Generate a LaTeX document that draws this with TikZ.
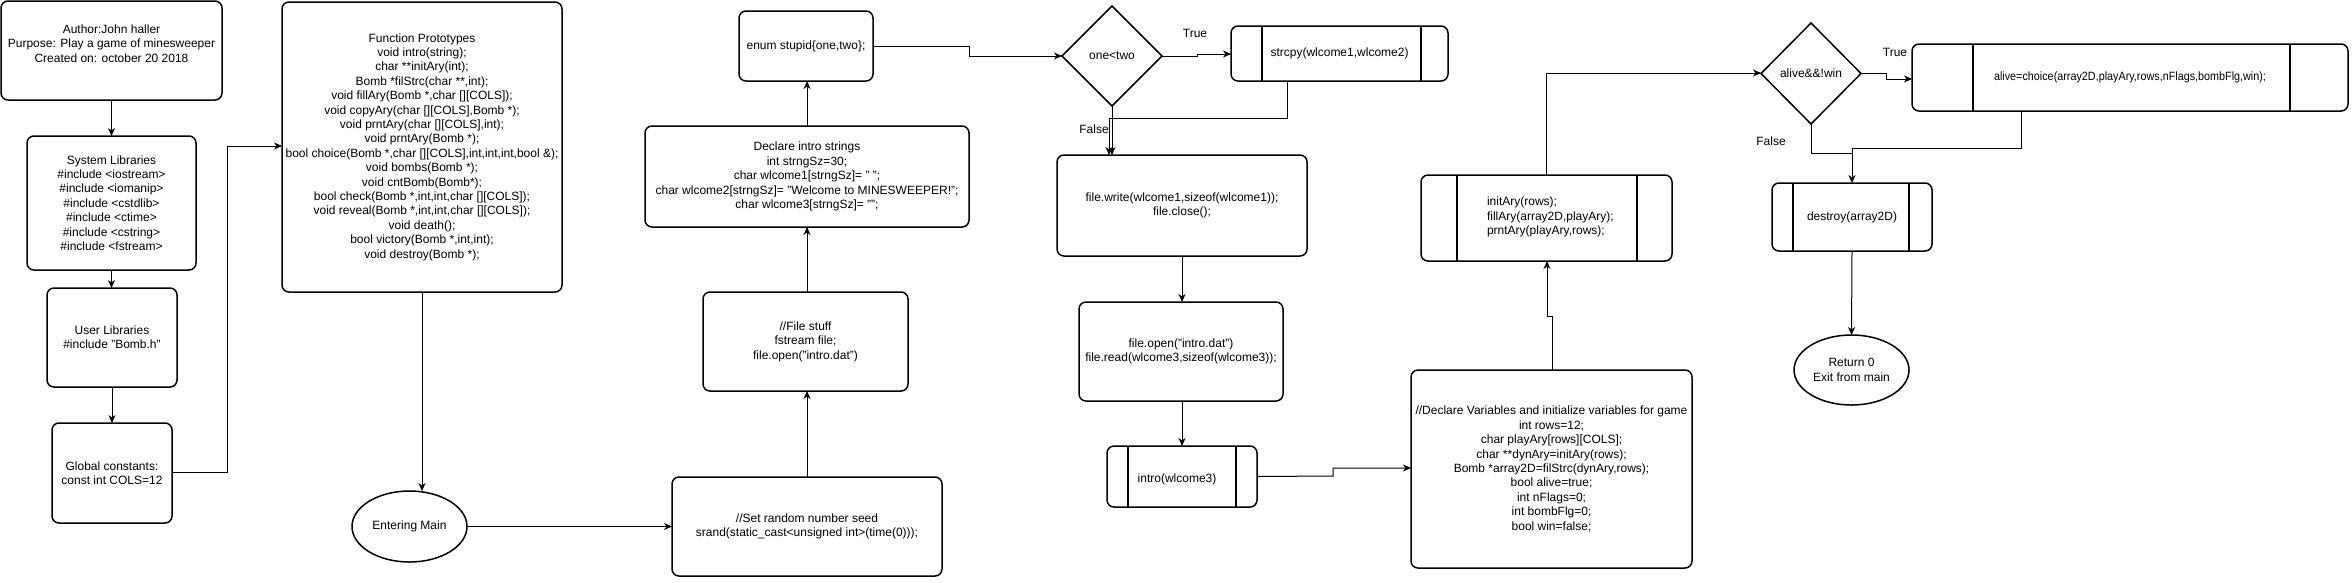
\documentclass[tikz,border=0pt]{standalone}
\usepackage{fontspec}
\usepackage{graphicx}
\setmainfont{Liberation Sans}
\usetikzlibrary{arrows.meta,shapes.geometric}
\begin{document}
\begin{tikzpicture}[x=1pt,y=-1pt,
  base/.style={font=\fontsize{12pt}{14.4pt}\selectfont, align=center, inner sep=0pt, outer sep=0pt},
  box/.style={base, draw, line width=1.5pt, rounded corners=7pt},
  dia/.style={base, draw, line width=1.5pt, diamond, aspect=1},
  ell/.style={base, draw, line width=1.5pt, ellipse},
  inner/.style={line width=1.5pt},
  conn/.style={line width=1pt, -{Stealth[length=8pt,width=7pt,inset=2.5pt]}},
  plain/.style={line width=1pt},
  lbl/.style={base}
]
\useasboundingbox (0,0) rectangle (2352,582);
\fill[white] (0,0) rectangle (2352,582);

% left column
\node[box, minimum width=221pt, minimum height=99pt] (author) at (111.5,50.5)
  {Author:John haller\\Purpose: Play a game of minesweeper\\Created on: october 20 2018\\~};
\node[box, minimum width=169pt, minimum height=134pt] (syslib) at (111.5,203)
  {System Libraries\\\#include <iostream>\\\#include <iomanip>\\\#include <cstdlib>\\\#include <ctime>\\\#include <cstring>\\\#include <fstream>};
\node[box, minimum width=130pt, minimum height=99pt] (userlib) at (112,337.5)
  {User Libraries\\\#include "Bomb.h"};
\node[box, minimum width=120pt, minimum height=100pt] (global) at (112,473)
  {Global constants:\\const int COLS=12};

% prototypes
\node[box, minimum width=280pt, minimum height=290pt] (proto) at (422,147)
  {Function Prototypes\\
   void intro(string);\\
   char **initAry(int);\\
   Bomb *filStrc(char **,int);\\
   void fillAry(Bomb *,char [][COLS]);\\
   void copyAry(char [][COLS],Bomb *);\\
   void prntAry(char [][COLS],int);\\
   void prntAry(Bomb *);\\
   bool choice(Bomb *,char [][COLS],int,int,int,bool \&);\\
   void bombs(Bomb *);\\
   void cntBomb(Bomb*);\\
   bool check(Bomb *,int,int,char [][COLS]);\\
   void reveal(Bomb *,int,int,char [][COLS]);\\
   void death();\\
   bool victory(Bomb *,int,int);\\
   void destroy(Bomb *);};

\node[ell, minimum width=115pt, minimum height=71pt] (entering) at (409.5,526.5) {};
\node[base] (enteringT) at (entering.center) {Entering Main};

% column 3
\node[box, minimum width=270pt, minimum height=99pt] (srand) at (807,526.5)
  {//Set random number seed\\srand(static\_cast<unsigned int>(time(0)));};
\node[box, minimum width=205pt, minimum height=99pt] (file) at (805.5,341.5)
  {//File stuff\\fstream file;\\file.open("intro.dat")};
\node[box, minimum width=324pt, minimum height=101pt] (decl) at (807,176.5)
  {Declare intro strings\\int strngSz=30;\\char wlcome1[strngSz]= " ";\\char wlcome2[strngSz]= "Welcome to MINESWEEPER!";\\char wlcome3[strngSz]= "";};
\node[box, minimum width=134pt, minimum height=70pt] (enum) at (806,46)
  {enum stupid\{one,two\};};

% column 4
\node[dia, minimum width=100pt, minimum height=100pt] (d1) at (1112,56) {one<two};
\node[box, minimum width=217pt, minimum height=55pt] (strcpy) at (1339.5,53.5)
  {strcpy(wlcome1,wlcome2)};
\draw[inner] ([xshift=31pt]strcpy.north west) -- ([xshift=31pt]strcpy.south west);
\draw[inner] ([xshift=-27pt]strcpy.north east) -- ([xshift=-27pt]strcpy.south east);
\node[box, minimum width=250pt, minimum height=101pt] (write) at (1182,205.5)
  {file.write(wlcome1,sizeof(wlcome1));\\file.close();};
\node[box, minimum width=204pt, minimum height=99pt] (open) at (1181,351.5)
  {file.open("intro.dat")\\file.read(wlcome3,sizeof(wlcome3));};
\node[box, minimum width=150pt, minimum height=61pt] (intro) at (1182,476.5) {};
\node[base] (introT) at (1177,479) {intro(wlcome3)};
\draw[inner] ([xshift=21pt]intro.north west) -- ([xshift=21pt]intro.south west);
\draw[inner] ([xshift=-21pt]intro.north east) -- ([xshift=-21pt]intro.south east);

% column 5
\node[box, minimum width=281pt, minimum height=198pt] (vars) at (1551.5,469)
  {//Declare Variables and initialize variables for game\\int rows=12;\\char playAry[rows][COLS];\\char **dynAry=initAry(rows);\\Bomb *array2D=filStrc(dynAry,rows);\\bool alive=true;\\int nFlags=0;\\int bombFlg=0;\\bool win=false;};
\node[box, minimum width=251pt, minimum height=86pt] (init) at (1546.5,218) {};
\draw[inner] ([xshift=36pt]init.north west) -- ([xshift=36pt]init.south west);
\draw[inner] ([xshift=-35pt]init.north east) -- ([xshift=-35pt]init.south east);
\node[base, align=left, anchor=west] (initT) at (1487,217)
  {initAry(rows);\\fillAry(array2D,playAry);\\prntAry(playAry,rows);};

% column 6
\node[dia, minimum width=100pt, minimum height=101pt] (d2) at (1811,73.5) {alive\&\&!win};
\node[box, minimum width=436pt, minimum height=67pt] (choice) at (2130,77.5)
  {\scalebox{0.9}[1]{alive=choice(array2D,playAry,rows,nFlags,bombFlg,win);}};
\draw[inner] ([xshift=61pt]choice.north west) -- ([xshift=61pt]choice.south west);
\draw[inner] ([xshift=-58pt]choice.north east) -- ([xshift=-58pt]choice.south east);
\node[box, minimum width=160pt, minimum height=68pt] (destroy) at (1852,217)
  {destroy(array2D)};
\draw[inner] ([xshift=21pt]destroy.north west) -- ([xshift=21pt]destroy.south west);
\draw[inner] ([xshift=-23pt]destroy.north east) -- ([xshift=-23pt]destroy.south east);
\node[ell, minimum width=115pt, minimum height=70pt] (ret) at (1851.5,370) {};
\node[base] (retT) at (ret.center) {Return 0\\Exit from main};

% labels
\node[lbl] (t1) at (1195,33) {True};
\node[lbl] (f1) at (1094,129) {False};
\node[lbl] (t2) at (1895,52) {True};
\node[lbl] (f2) at (1771,141) {False};

% connectors
\draw[conn] (author.south) -- (syslib.north);
\draw[conn] (syslib.south) -- (userlib.north -| syslib.south);
\draw[conn] (userlib.south) -- (global.north -| userlib.south);
\coordinate (g1) at (227,472);
\coordinate (g2) at (227,146);
\draw[conn] (global.east |- g1) -- (g1) -- (g2) -- (proto.west |- g2);
\draw[conn] (422,292) -- (422,491);
\draw[conn] (entering.east) -- (srand.west);
\draw[conn] (srand.north) -- (file.south -| srand.north);
\draw[conn] (file.south -| srand.north) ++(0,-99) -- (decl.south);
\draw[conn] (decl.north) -- (enum.south -| decl.north);
\coordinate (e1) at (969,46);
\coordinate (e2) at (969,56);
\draw[conn] (enum.east) -- (e1) -- (e2) -- (d1.west);
\coordinate (s1) at (1197,56);
\coordinate (s2) at (1197,54);
\draw[conn] (d1.east) -- (s1) -- (s2) -- (strcpy.west |- s2);
\coordinate (c1) at (1287,81);
\coordinate (c2) at (1287,118);
\coordinate (c3) at (1109,118);
\draw[conn] (c1) -- (c2) -- (c3) -- (write.north -| c3);
\draw[conn] (d1.south) -- (write.north -| d1.south);
\draw[conn] (write.south) -- (open.north -| write.south);
\draw[conn] (open.south -| write.south) -- (intro.north);
\coordinate (i1) at (1333,476);
\coordinate (i2) at (1333,468);
\draw[conn] (intro.east) -- (i1) -- (i2) -- (vars.west |- i2);
\coordinate (v1) at (1552,316);
\coordinate (v2) at (1547,316);
\draw[conn] (vars.north -| v1) -- (v1) -- (v2) -- (init.south -| v2);
\coordinate (n1) at (1546,73);
\draw[conn] (init.north -| n1) -- (n1) -- (d2.west |- n1);
\coordinate (w1) at (1886,73);
\coordinate (w2) at (1886,79);
\draw[conn] (d2.east |- w1) -- (w1) -- (w2) -- (choice.west |- w2);
\coordinate (h1) at (2021,148);
\coordinate (h2) at (1852,148);
\draw[conn] (choice.south -| h1) -- (h1) -- (h2) -- (destroy.north);
\coordinate (k1) at (1811,153);
\coordinate (k2) at (1852,153);
\draw[plain] (d2.south) -- (k1) -- (k2);
\draw[conn] (destroy.south) -- (ret.north);
\end{tikzpicture}
\end{document}
